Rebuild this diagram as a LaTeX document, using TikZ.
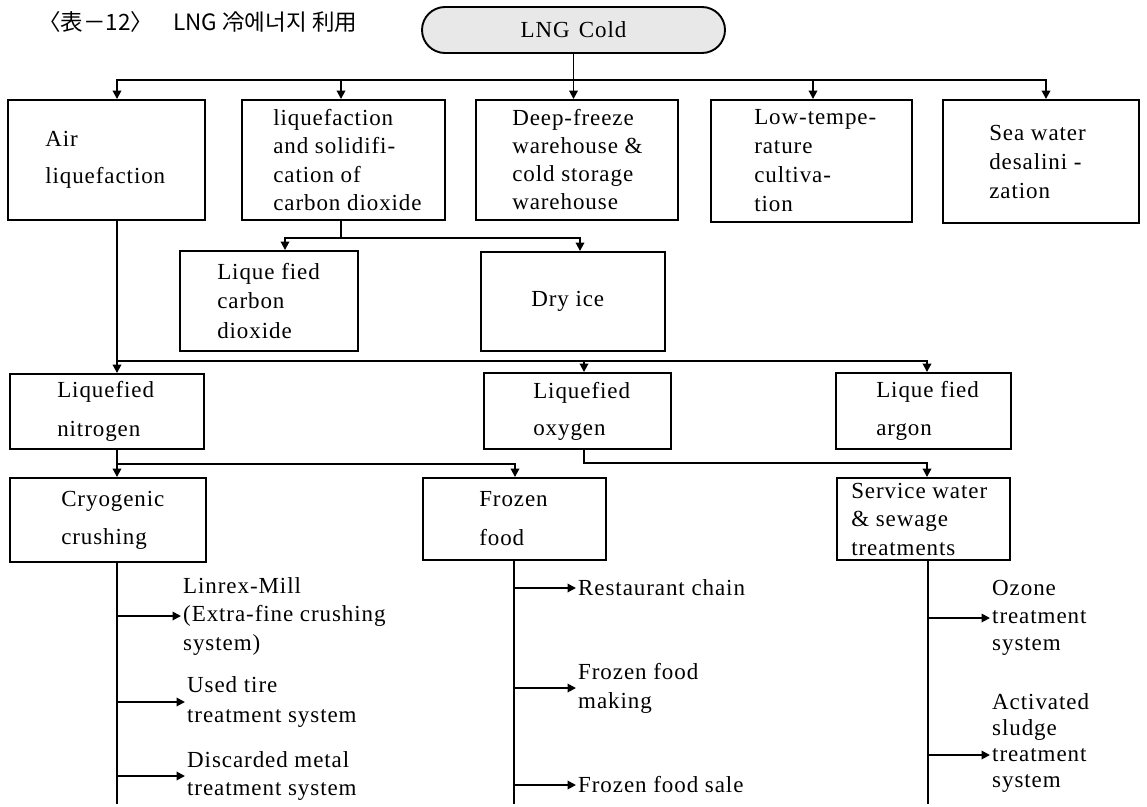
\documentclass[tikz,border=0pt]{standalone}
\usepackage{fontspec}
\setmainfont{Liberation Serif}[LetterSpace=4.0]
\newfontfamily\krfont{Noto Sans CJK KR}
\usetikzlibrary{arrows.meta}
\tikzset{
  line/.style={line width=1.9pt},
  arr/.style={line, -{Triangle[length=8.5pt,width=8.5pt]}},
  box/.style={draw, line width=1.9pt, rectangle, inner sep=0pt},
  txt/.style={inner sep=0pt, align=left, anchor=west},
  leaf/.style={inner sep=2pt, align=left, anchor=west},
}
\newcommand\bx[8]{%
  \node[box, minimum width={#4-#2}, minimum height={#5-#3}] (#1) at ({(#2+#4)/2},{(#3+#5)/2}) {};
  \node[txt, font={\fontsize{23}{#7}\selectfont}] (#1t) at ([xshift=#6pt]#1.west) {#8};}
\begin{document}
\begin{tikzpicture}[x=1pt,y=-1pt]
\useasboundingbox (0,0) rectangle (1147,806);
% title
\node[anchor=west, inner sep=0pt, font={\krfont\fontsize{22.5}{26}\selectfont}] (title) at (38,22) {〈表－12〉\hspace{0.9em}LNG 冷에너지 利用};
% root
\node[draw, line width=1.9pt, rounded corners=23pt, fill=gray!18, minimum width=303pt, minimum height=46pt, inner sep=0pt, font={\fontsize{23}{26}\selectfont}] (lng) at (573.5,30) {LNG\hspace{0.4em}Cold};
% first row
\bx{air}{8}{100}{205}{220}{38}{37}{Air\\liquefaction}
\bx{co2}{242}{100}{445}{220}{32}{28.5}{liquefaction\\and solidifi-\\cation of\\carbon dioxide}
\bx{deep}{476}{100}{678}{220}{37}{28}{Deep-freeze\\warehouse \&\\cold storage\\warehouse}
\bx{low}{711}{100}{912}{222}{44}{29}{Low-tempe-\\rature\\cultiva-\\tion}
\bx{sea}{943}{100}{1139}{223}{47}{29}{Sea water\\desalini -\\zation}
% second row
\bx{lco}{180}{251}{358}{351}{38}{29.5}{Lique fied\\carbon\\dioxide}
\bx{dry}{481}{252}{665}{351}{51}{28}{Dry ice}
% third row
\bx{nit}{10}{374}{204}{449}{48}{39}{Liquefied\\nitrogen}
\bx{oxy}{484}{373}{671}{449}{50}{37}{Liquefied\\oxygen}
\bx{arg}{836}{373}{1011}{449}{41}{38}{Lique fied\\argon}
% fourth row
\bx{cryo}{10}{478}{206}{562}{52}{38}{Cryogenic\\crushing}
\bx{froz}{423}{478}{606}{560}{57}{39}{Frozen\\food}
\bx{serv}{837}{478}{1010}{560}{15}{28.5}{Service water\\\& sewage\\treatments}
% leaves
\node[leaf, font={\fontsize{23}{28.5}\selectfont}] (lin) at (181,616) {Linrex-Mill\\(Extra-fine crushing\\system)};
\node[leaf, font={\fontsize{23}{30}\selectfont}] (tire) at (185,702) {Used tire\\treatment system};
\node[leaf, font={\fontsize{23}{28}\selectfont}] (metal) at (185,776) {Discarded metal\\treatment system};
\node[leaf, font={\fontsize{23}{28}\selectfont}] (rest) at (576,588) {Restaurant chain};
\node[leaf, font={\fontsize{23}{29}\selectfont}] (fmak) at (576,688) {Frozen food\\making};
\node[leaf, font={\fontsize{23}{28}\selectfont}] (fsal) at (576,785) {Frozen food sale};
\node[leaf, font={\fontsize{23}{27.5}\selectfont}] (ozo) at (990,618) {Ozone\\treatment\\system};
\node[leaf, font={\fontsize{23}{25.7}\selectfont}] (act) at (990,743) {Activated\\sludge\\treatment\\system};
\coordinate (actp) at ([yshift=-12pt]act.west);
% connectors from root
\draw[arr] (lng.south) -- ++(0,26) -| ([xshift=10.5pt]air.north);
\draw[arr] (lng.south) -- ++(0,26) -| ([xshift=-2.5pt]co2.north);
\draw[arr] (lng.south) -- ([xshift=-3.5pt]deep.north);
\draw[arr] (lng.south) -- ++(0,26) -| ([xshift=1.5pt]low.north);
\draw[arr] (lng.south) -- ++(0,26) -| ([xshift=5pt]sea.north);
% CO2 branch
\draw[arr] ([xshift=-2.5pt]co2.south) -- ++(0,17) -| ([xshift=16pt]lco.north);
\draw[arr] ([xshift=-2.5pt]co2.south) -- ++(0,17) -| ([xshift=7pt]dry.north);
% air branch
\draw[arr] ([xshift=10.5pt]air.south) -- ++(0,140) -| ([xshift=10pt]nit.north);
\draw[arr] ([xshift=10.5pt]air.south) -- ++(0,140) -| ([xshift=6.5pt]oxy.north);
\draw[arr] ([xshift=10.5pt]air.south) -- ++(0,140) -| ([xshift=3.5pt]arg.north);
% nitrogen branch
\draw[arr] ([xshift=10pt]nit.south) -- ++(0,14) -| ([xshift=9pt]cryo.north);
\draw[arr] ([xshift=10pt]nit.south) -- ++(0,14) -| ([xshift=0.5pt]froz.north);
% oxygen branch
\draw[arr] ([xshift=6.5pt]oxy.south) -- ++(0,13) -| ([xshift=3.5pt]serv.north);
% stems
\draw[line] ([xshift=9pt]cryo.south) -- ++(0,241);
\draw[line] ([xshift=-0.5pt]froz.south) -- ++(0,243);
\draw[line] ([xshift=4.5pt]serv.south) -- ++(0,243);
% leaf arrows
\draw[arr] ([xshift=9pt]cryo.south |- lin.west) -- (lin.west);
\draw[arr] ([xshift=9pt]cryo.south |- tire.west) -- (tire.west);
\draw[arr] ([xshift=9pt]cryo.south |- metal.west) -- (metal.west);
\draw[arr] ([xshift=-0.5pt]froz.south |- rest.west) -- (rest.west);
\draw[arr] ([xshift=-0.5pt]froz.south |- fmak.west) -- (fmak.west);
\draw[arr] ([xshift=-0.5pt]froz.south |- fsal.west) -- (fsal.west);
\draw[arr] ([xshift=4.5pt]serv.south |- ozo.west) -- (ozo.west);
\draw[arr] ([xshift=4.5pt]serv.south |- actp) -- (actp);
\end{tikzpicture}
\end{document}
